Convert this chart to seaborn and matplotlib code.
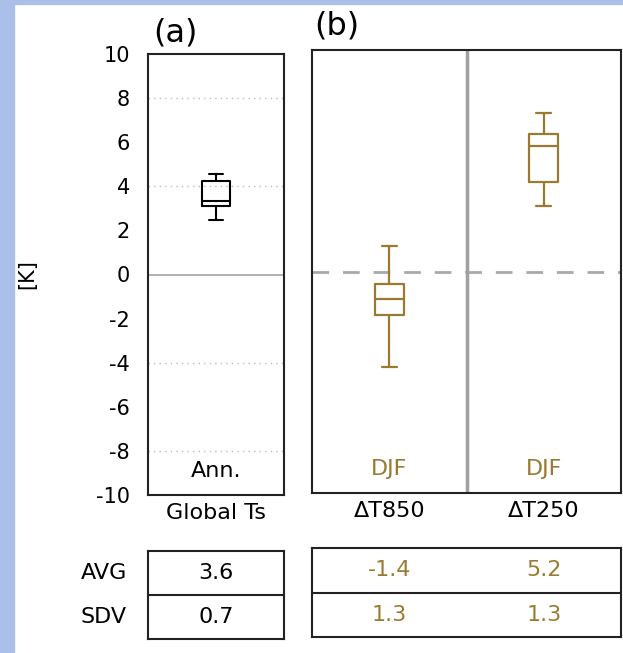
import numpy as np
import pandas as pd
import matplotlib
matplotlib.use('Agg')
import matplotlib.pyplot as plt
from matplotlib.patches import Rectangle
import seaborn as sns

# box stats: [low whisker, q1, median, q3, high whisker]
global_ts = [2.47, 3.10, 3.33, 4.24, 4.56]
t850 = [-4.31, -1.96, -1.24, -0.56, 1.15]
t250 = [2.96, 4.04, 5.67, 6.21, 7.16]

cats_b = ['\u0394T850', '\u0394T250']
avg_a, sdv_a = 3.6, 0.7
avg_b = [-1.4, 5.2]
sdv_b = [1.3, 1.3]
yticks = list(range(-10, 11, 2))

gold = '#9a7a30'
blue = '#abc0e8'

sns.set_theme(style='white')
plt.rcParams['font.family'] = ['DejaVu Sans']
plt.rcParams['axes.unicode_minus'] = False
plt.rcParams['text.color'] = 'black'
plt.rcParams['axes.labelcolor'] = 'black'
plt.rcParams['xtick.color'] = 'black'
plt.rcParams['ytick.color'] = 'black'

W, H = 623, 653
fig = plt.figure(figsize=(W / 100, H / 100), dpi=100)
fig.patch.set_facecolor('white')
# blue slide border on the left and top
fig.patches.append(Rectangle((0, 0), 14 / W, 1, transform=fig.transFigure, color=blue, zorder=-5))
fig.patches.append(Rectangle((0, 1 - 4 / H), 1, 4 / H, transform=fig.transFigure, color=blue, zorder=-5))


def box(x0, y0, x1, y1):
    # pixel box -> figure fraction
    return [x0 / W, 1 - y1 / H, (x1 - x0) / W, (y1 - y0) / H]


ax_a = fig.add_axes(box(148, 54, 284, 495))
ax_b = fig.add_axes(box(312, 50, 621, 493))
tab_a = fig.add_axes(box(148, 551, 284, 639))
tab_b = fig.add_axes(box(312, 548, 621, 637))

# panel (a)
df_a = pd.DataFrame({'var': ['Global Ts'] * len(global_ts), 'value': global_ts})
sns.boxplot(data=df_a, x='var', y='value', ax=ax_a, whis=np.inf, fill=False,
            color='black', width=0.2, linewidth=1.5, showfliers=False)
for v in [8, 4, -4, -8]:
    ax_a.axhline(v, color='#bbbbbb', lw=1, ls=(0, (1, 3)), zorder=0)
ax_a.axhline(0, color='#aaaaaa', lw=1.3, zorder=0)
ax_a.set_ylim(-10, 10)
ax_a.set_xlim(-0.5, 0.5)
ax_a.set_yticks(yticks)
ax_a.set_xlabel('')
ax_a.set_ylabel('[K]', fontsize=15, labelpad=42)
ax_a.tick_params(axis='y', length=0, pad=13, labelsize=15)
ax_a.tick_params(axis='x', length=0, pad=6, labelsize=16)
ax_a.text(0, -8.9, 'Ann.', ha='center', va='center', fontsize=16)

# panel (b)
df_b = pd.DataFrame({'var': [cats_b[0]] * len(t850) + [cats_b[1]] * len(t250),
                     'value': t850 + t250})
sns.boxplot(data=df_b, x='var', y='value', ax=ax_b, whis=np.inf, fill=False,
            color=gold, width=0.19, linewidth=1.6, showfliers=False)
ax_b.axhline(0, color='#a8a8a8', lw=2, ls=(0, (6, 5)), zorder=0)
ax_b.axvline(0.5, color='#a0a0a0', lw=2.5, zorder=0)
ax_b.set_ylim(-10, 10)
ax_b.set_xlim(-0.5, 1.5)
ax_b.set_yticks([])
ax_b.set_xlabel('')
ax_b.set_ylabel('')
ax_b.tick_params(axis='x', length=0, pad=6, labelsize=16)
for i in range(len(cats_b)):
    ax_b.text(i, -8.9, 'DJF', ha='center', va='center', fontsize=16, color=gold)

# panel letters
fig.text(175 / W, 1 - 33 / H, '(a)', ha='center', va='center', fontsize=23)
fig.text(337 / W, 1 - 26 / H, '(b)', ha='center', va='center', fontsize=23)

# tables of mean / spread
tab_a.text(0.5, 0.75, f'{avg_a:.1f}', ha='center', va='center', fontsize=16)
tab_a.text(0.5, 0.25, f'{sdv_a:.1f}', ha='center', va='center', fontsize=16)
tab_a.text(-0.155, 0.75, 'AVG', ha='right', va='center', fontsize=16, transform=tab_a.transAxes)
tab_a.text(-0.155, 0.25, 'SDV', ha='right', va='center', fontsize=16, transform=tab_a.transAxes)
for i in range(len(cats_b)):
    xc = 0.25 + 0.5 * i
    tab_b.text(xc, 0.75, f'{avg_b[i]:.1f}', ha='center', va='center', fontsize=16, color=gold)
    tab_b.text(xc, 0.25, f'{sdv_b[i]:.1f}', ha='center', va='center', fontsize=16, color=gold)
for t in (tab_a, tab_b):
    t.set_xlim(0, 1)
    t.set_ylim(0, 1)
    t.set_xticks([])
    t.set_yticks([])
    t.axhline(0.5, color='#222222', lw=1.5)

for a in (ax_a, ax_b, tab_a, tab_b):
    for s in a.spines.values():
        s.set_visible(True)
        s.set_color('#222222')
        s.set_linewidth(1.5)

fig.savefig('out.png', dpi=100, facecolor='white')
